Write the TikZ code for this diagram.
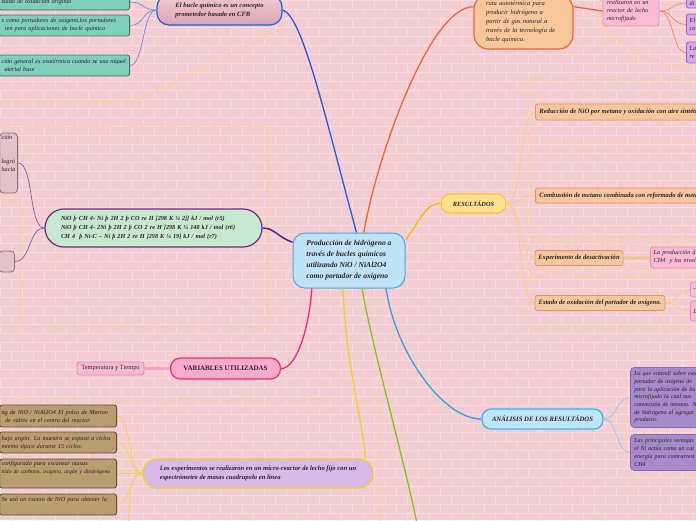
\documentclass[tikz,border=0pt]{standalone}
\usepackage{fontspec}
\setmainfont{Liberation Serif}
\usepackage{xcolor}
\definecolor{wallpink}{HTML}{F3CDD2}
\definecolor{mortar}{HTML}{F8DDE0}
\definecolor{zoneline}{HTML}{FFD08C}
\definecolor{ink}{HTML}{2A2226}
\definecolor{centrefill}{HTML}{BFE3F6}
\definecolor{centreline}{HTML}{4DA6E0}
\definecolor{bucleline}{HTML}{1F5FD9}
\definecolor{bucletop}{HTML}{EFC9D3}
\definecolor{buclebot}{HTML}{DBA5B5}
\definecolor{twigblue}{HTML}{6A8FE0}
\definecolor{tealfill}{HTML}{7FCFBD}
\definecolor{tealline}{HTML}{4A6A62}
\definecolor{rutafill}{HTML}{F7C89C}
\definecolor{rutaline}{HTML}{F0653B}
\definecolor{twigorange}{HTML}{F28A66}
\definecolor{pinkfill}{HTML}{F9BAD3}
\definecolor{pinkline}{HTML}{EC8DB5}
\definecolor{violetfill}{HTML}{D6A8E8}
\definecolor{violetline}{HTML}{A062C8}
\definecolor{yellowfill}{HTML}{FFE08F}
\definecolor{yellowline}{HTML}{FFC72C}
\definecolor{yellowwire}{HTML}{FFB800}
\definecolor{peachfill}{HTML}{F6C8A0}
\definecolor{peachline}{HTML}{F28B6B}
\definecolor{peachwire}{HTML}{FFCB70}
\definecolor{peachthick}{HTML}{F4C494}
\definecolor{cyanfill}{HTML}{BEE6F8}
\definecolor{cyanline}{HTML}{38B4EA}
\definecolor{cyanwire}{HTML}{2AA6E8}
\definecolor{twigcyan}{HTML}{8ECCEB}
\definecolor{purplefill}{HTML}{A68AC9}
\definecolor{purpleline}{HTML}{8A6AB8}
\definecolor{mintfill}{HTML}{C6E8CE}
\definecolor{reacline}{HTML}{6A2C84}
\definecolor{reacwire}{HTML}{5C1F78}
\definecolor{twigpurple}{HTML}{8C5AA0}
\definecolor{mauvefill}{HTML}{E5C1C9}
\definecolor{mauveline}{HTML}{9A6A7C}
\definecolor{hotpink}{HTML}{F02C7C}
\definecolor{varfill}{HTML}{F9ABCB}
\definecolor{templine}{HTML}{F07AAE}
\definecolor{pinkthick}{HTML}{F3A6C4}
\definecolor{brownfill}{HTML}{BA9C6F}
\definecolor{brownline}{HTML}{5E4B3A}
\definecolor{lavfill}{HTML}{D9BAE6}
\definecolor{lavline}{HTML}{EDD22A}
\definecolor{twigyellow}{HTML}{F2D34A}
\definecolor{greenwire}{HTML}{8CC21E}
\usetikzlibrary{decorations.pathmorphing}

\begin{document}
\begin{tikzpicture}[x=1pt, y=-1pt,
    hub/.style={draw=centreline, fill=centrefill, rounded corners=12pt, line width=1pt, minimum width=112pt, minimum height=55pt, align=left, font=\fontsize{7.6}{11}\selectfont\bfseries\itshape, text=ink},
    topic/.style={rounded corners=9pt, line width=1.2pt, align=center, font=\fontsize{6.4}{8}\selectfont\bfseries\itshape, text=ink},
    leaf/.style={rounded corners=2.5pt, line width=0.8pt, align=left, inner ysep=2pt, font=\fontsize{6.2}{8}\selectfont\itshape, text=ink},
    boldleaf/.style={leaf, font=\fontsize{6.6}{8}\selectfont\bfseries\itshape},
    brownleaf/.style={leaf, draw=brownline, fill=brownfill, text width=116pt, inner xsep=0.5pt, anchor=east},
    wire/.style={line width=1.3pt},
    twig/.style={line width=0.7pt},
    zone/.style={draw=zoneline, line width=0.8pt, decorate, decoration={random steps, segment length=5pt, amplitude=0.4pt}},
    brick/.style={draw=mortar, line width=0.6pt}
]
\useasboundingbox (0,0) rectangle (696,520);
\clip (0,0) rectangle (696,520);

% Brick wall
\fill[wallpink] (0,0) rectangle (696,520);
\foreach \r in {0,...,57} {
  \draw[brick] (0,\r*9) -- (696,\r*9);
  \foreach \c in {0,...,32}
    \draw[brick] ({\c*22+mod(\r,2)*11},\r*9) -- ++(0,9);
}

% Zones
\draw[zone] (0,101) -- (136,101) -- (280,29) -- (283,-5);
\draw[zone] (600,-5) -- (602,29) -- (640,55) -- (671,67) -- (700,63);
\draw[zone] (528,80) rectangle (720,143);
\draw[zone] (528,150) rectangle (720,237);
\draw[zone] (528,243) rectangle (720,270);
\draw[zone] (528,277) rectangle (720,328);
\draw[zone] (-5,127) rectangle (268,327);
\draw[zone] (-5,200) -- (21,200) -- (21,327);
\draw[zone] (-5,400) -- (379,400) -- (379,530);

% Centre
\node[hub] (centre) at (349,260.5) {Producción de hidrógeno a\\través de bucles químicos\\utilizando NiO / NiAl2O4\\como portador de oxígeno};

% Top branch
\node[topic, draw=bucleline, top color=bucletop, bottom color=buclebot, rounded corners=12pt, minimum width=125pt, minimum height=30pt, align=left, font=\fontsize{6.6}{9}\selectfont\bfseries\itshape] (bucle) at (219.5,10) {El bucle químico es un concepto\\prometedor basado en CFB};
\node[leaf, draw=tealline, fill=tealfill, text width=125pt, inner xsep=3pt, minimum height=16pt, anchor=east] (teal1) at (130,2) {stado de oxidación original};
\node[leaf, draw=tealline, fill=tealfill, text width=125pt, inner xsep=3pt, minimum height=21pt, anchor=east] (teal2) at (130,25.5) {s como portadores de oxígeno,los portadores\\\hspace*{3pt}ren para aplicaciones de bucle químico};
\node[leaf, draw=tealline, fill=tealfill, text width=125pt, inner xsep=3pt, minimum height=21pt, anchor=east] (teal3) at (130,65.5) {ción general es exotérmica cuando se usa níquel\\\hspace*{3pt}aterial base};

% Top right branch
\node[topic, draw=rutaline, fill=rutafill, rounded corners=14pt, text width=75pt, inner xsep=12pt, minimum height=54pt, align=left, font=\fontsize{6.5}{9}\selectfont\itshape] (ruta) at (523.5,22) {ruta autotérmica para\\producir hidrógeno a\\partir de gas natural a\\través de la tecnología de\\bucle químico.};
\node[leaf, draw=pinkline, fill=pinkfill, text width=48pt, inner xsep=4pt, minimum height=30pt] (lecho) at (631,11) {realizaron en un\\reactor de lecho\\microfijado};
\node[leaf, draw=violetline, fill=violetfill, text width=40pt, inner ysep=1pt, minimum height=10pt, anchor=west] (viol1) at (686,3) {di};
\node[leaf, draw=violetline, fill=violetfill, text width=40pt, minimum height=21pt, anchor=west] (viol2) at (686,24.5) {El\\co};
\node[leaf, draw=violetline, fill=violetfill, text width=40pt, minimum height=21pt, anchor=west] (viol3) at (686,52.5) {La\\re};

% Results
\node[topic, draw=yellowline, fill=yellowfill, minimum width=65pt, minimum height=19pt] (res) at (473.5,203.5) {RESULTÁDOS};
\node[boldleaf, draw=peachline, fill=peachfill, minimum height=16pt, inner xsep=4pt, anchor=west] (red) at (535,112) {Reducción de NiO por metano y oxidación con aire sintético};
\node[boldleaf, draw=peachline, fill=peachfill, minimum height=15pt, inner xsep=4pt, anchor=west] (comb) at (535,195.5) {Combustión de metano combinada con reformado de metano};
\node[boldleaf, draw=peachline, fill=peachfill, minimum height=15pt, minimum width=88pt, align=center] (desac) at (579,258) {Experimento de desactivación};
\node[boldleaf, draw=peachline, fill=peachfill, minimum height=15pt, minimum width=130pt, align=center] (estado) at (600,303) {Estado de oxidación del portador de oxígeno.};
\node[leaf, draw=pinkline, fill=pinkfill, text width=60pt, minimum height=21pt, anchor=west] (prod) at (650,257.5) {La producción d\\CH4\ \ y los nivel};
\node[leaf, draw=pinkline, fill=pinkfill, text width=20pt, minimum height=15pt, anchor=west] (ox1) at (690,289.5) {-};
\node[leaf, draw=pinkline, fill=pinkfill, text width=20pt, minimum height=20pt, anchor=west] (ox2) at (690,311) {L};

% Analysis
\node[topic, draw=cyanline, fill=cyanfill, minimum width=121pt, minimum height=20pt, font=\fontsize{6.7}{8}\selectfont\bfseries\itshape] (ana) at (542.5,419) {ANÁLISIS DE LOS RESULTÁDOS};
\node[leaf, draw=purpleline, fill=purplefill, rounded corners=4pt, text width=80pt, inner xsep=4pt, minimum height=60pt, anchor=north west, font=\fontsize{6}{7.7}\selectfont\itshape] (ana1) at (630,367) {Lo que entendí sobre este\\portador de oxígeno de\\para la aplicación de bu\\microfijado la cual nos\\conversión de metano. N\\de hidrógeno al agregar\\producto.};
\node[leaf, draw=purpleline, fill=purplefill, rounded corners=4pt, text width=80pt, inner xsep=4pt, minimum height=36pt, anchor=north west, font=\fontsize{6}{7.7}\selectfont\itshape] (ana2) at (630,434) {Las principales ventajas\\el Ni actúa como un cat\\energía para contrarrest\\CH4};

% Reactions
\node[topic, draw=reacline, fill=mintfill, rounded corners=19pt, text width=185pt, inner xsep=16pt, minimum height=38pt, align=left, font=\fontsize{6.2}{9}\selectfont\bfseries\itshape] (reac) at (153.5,228) {NiO þ CH 4- Ni þ 2H 2 þ CO re H ]298 K ¼ 2]] kJ / mol (r5)\\NiO þ CH 4- 2Ni þ 2H 2 þ CO 2 re H ]298 K ¼ 148 kJ / mol (r6)\\CH 4 \ þ Ni-C – Ni þ 2H 2 re H ]298 K ¼ 19] kJ / mol (r7)};
\node[leaf, draw=mauveline, fill=mauvefill, rounded corners=4pt, text width=14pt, inner xsep=2pt, minimum height=60pt, anchor=east] (mauve1) at (18,163) {ción\\[16pt]logró\\hacia\\[8pt]\strut};
\node[leaf, draw=mauveline, fill=mauvefill, rounded corners=4pt, minimum width=16pt, minimum height=21pt, anchor=east] (mauve2) at (15,261.5) {};

% Variables
\node[topic, draw=hotpink, fill=varfill, rounded corners=10pt, minimum width=110pt, minimum height=21pt, font=\fontsize{6.9}{8}\selectfont\bfseries] (var) at (225.5,368.5) {VARIABLES UTILIZADAS};
\node[leaf, draw=templine, fill=pinkfill, minimum width=67pt, minimum height=13pt, align=center, font=\fontsize{6.4}{8}\selectfont] (temp) at (110.5,368.5) {Temperatura y Tiempo};

% Experiments
\node[topic, draw=lavline, fill=lavfill, rounded corners=14pt, minimum width=230pt, minimum height=29pt, align=left, font=\fontsize{6.6}{8.5}\selectfont\bfseries\itshape] (lav) at (258,473.5) {Los experimentos se realizaron en un micro-reactor de lecho fijo con un\\espectrómetro de masas cuadrupolo en línea};
\node[brownleaf, minimum height=22pt] (brown1) at (117,416) {\hspace*{1.5pt}ng de NiO / NiAl2O4 El polvo de Marion\\\hspace*{5pt}de vidrio en el centro del reactor.};
\node[brownleaf, minimum height=21pt] (brown2) at (117,442.5) {\hspace*{1.5pt}bajo argón. La muestra se expuso a ciclos\\\hspace*{1.5pt}miento típico durante 15 ciclos.};
\node[brownleaf, minimum height=29pt] (brown3) at (117,473.5) {\hspace*{1.5pt}configurado para escanear masas\\\mbox{\fontsize{5.6}{8}\selectfont\hspace*{1.5pt}nido de carbono, oxígeno, argón y dinitrógeno}\\[2pt]\strut};
\node[brownleaf, minimum height=21pt] (brown4) at (117,504.5) {\hspace*{1.5pt}Se usó un exceso de NiO para obtener la\\\strut};
\coordinate (brownmore) at (128,530);
\coordinate (greenend) at (420,540);

% Main branches
\draw[wire, bucleline] (bucle.east) .. controls +(20,5) and +(-30,-110) .. (centre.75);
\draw[wire, rutaline] (centre.62) .. controls +(12,-73) and +(-44,0) .. (ruta.163);
\draw[wire, yellowwire] (centre.20) .. controls +(15,-20) and +(-15,0) .. (res.west);
\draw[wire, cyanwire] (centre.-37) .. controls +(8,60) and +(-40,0) .. (ana.west);
\draw[wire, greenwire] (centre.-65) .. controls +(10,60) and +(-10,-60) .. (greenend);
\draw[wire, lavline] (centre.-102) .. controls +(3,80) and +(-3,-40) .. (lav.8);
\draw[wire, hotpink] (centre.-143) .. controls +(-3,42) and +(15,0) .. (var.east);
\draw[wire, reacwire, line width=1.5pt] (centre.162) .. controls +(-15,-5) and +(12,0) .. (reac.east);

% Twigs
\foreach \t in {teal1, teal2, teal3}
  \draw[twig, twigblue] (bucle.west) .. controls +(-14,0) and +(14,0) .. (\t.east);
\draw[wire, rutaline] (ruta.17) -- (lecho.west);
\foreach \t in {viol1, viol2, viol3}
  \draw[twig, twigorange] (lecho.east) .. controls +(14,0) and +(-14,0) .. (\t.west);
\foreach \t in {red, comb, desac, estado}
  \draw[twig, peachwire] (res.east) .. controls +(16,0) and +(-16,0) .. (\t.west);
\draw[peachthick, line width=2.5pt] (desac.east) -- (prod.west);
\foreach \t in {ox1, ox2}
  \draw[twig, peachwire] (estado.east) .. controls +(14,0) and +(-14,0) .. (\t.west);
\foreach \t in {ana1, ana2}
  \draw[twig, twigcyan] (ana.east) .. controls +(14,0) and +(-14,0) .. (\t.west);
\foreach \t in {mauve1, mauve2}
  \draw[twig, twigpurple] (reac.west) .. controls +(-16,0) and +(16,0) .. (\t.east);
\draw[pinkthick, line width=2.5pt] (var.west) -- (temp.east);
\foreach \t in {brown1, brown2, brown3, brown4}
  \draw[twig, twigyellow] (lav.west) .. controls +(-14,0) and +(14,0) .. (\t.east);
\draw[twig, twigyellow] (lav.west) .. controls +(-14,0) and +(2,-30) .. (brownmore);

\end{tikzpicture}
\end{document}
